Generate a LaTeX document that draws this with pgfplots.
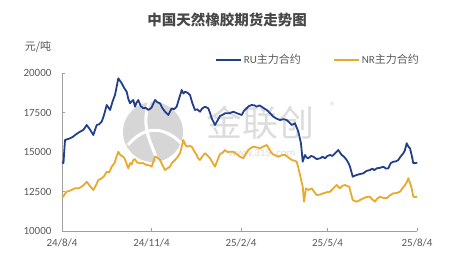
\documentclass[border=0pt]{standalone}
\usepackage{pgfplots}
\pgfplotsset{compat=1.18}
\usepackage{fontspec}
\setmainfont{Carlito}
\newfontfamily\cjk{Noto Sans CJK SC}
\definecolor{rublue}{HTML}{213F8B}
\definecolor{nrgold}{HTML}{E9A92C}
\definecolor{txt}{HTML}{595959}
\definecolor{axgray}{HTML}{A0A0A0}
\definecolor{wm}{HTML}{D6D6D6}
\definecolor{wmt}{HTML}{DCDCDC}
\begin{document}
\begin{tikzpicture}
\useasboundingbox (0,0) rectangle (454pt,265pt);
% watermark
\fill[wm] (153pt,133pt) circle (30pt);
\draw[white, line width=3pt] (128pt,120pt) .. controls (145pt,140pt) and (165pt,140pt) .. (185pt,118pt);
\draw[white, line width=3pt] (150pt,165pt) .. controls (140pt,140pt) and (150pt,125pt) .. (158pt,103pt);
\node[wmt, font=\cjk\fontsize{36}{40}\selectfont, anchor=center] at (260pt,142pt) {金联创};
\node[wmt, font=\fontsize{14}{14}\selectfont] at (333pt,158pt) {®};
\node[wmt, font=\fontsize{11}{11}\selectfont] at (262pt,112pt) {www.315i.com};
% title etc
\node[text=txt!80!black, font=\cjk\bfseries\fontsize{14.5}{15}\selectfont] at (227pt,245pt) {中国天然橡胶期货走势图};
\node[text=txt, font=\cjk\fontsize{11}{12}\selectfont] at (38pt,218pt) {元/吨};
\begin{axis}[
  at={(62pt,34pt)}, anchor=south west,
  scale only axis, width=355pt, height=158pt,
  xmin=0, xmax=365, ymin=10000, ymax=20000,
  xtick={0,92,184,273,365},
  xticklabels={24/8/4,24/11/4,25/2/4,25/5/4,25/8/4},
  ytick={10000,12500,15000,17500,20000},
  scaled ticks=false,
  /pgf/number format/1000 sep={},
  /pgf/number format/assume math mode=true,
  axis lines*=left,
  axis line style={axgray, line width=0.8pt},
  tick style={axgray, line width=0.8pt},
  tick align=inside, major tick length=3pt,
  ticklabel style={text=txt, font=\fontsize{11}{12}\selectfont},
  yticklabel style={xshift=-7pt},
  xticklabel style={yshift=-4pt},
  legend style={at={(0.43,1.082)}, anchor=west, draw=none, fill=none,
    font=\fontsize{11}{12}\selectfont, text=txt, inner sep=0pt,
    /tikz/every even column/.append style={column sep=30pt}},
  legend columns=2,
  legend cell align=left,
  legend image code/.code={\draw[#1, line width=2pt] (0pt,0pt) -- (25pt,0pt);},
  clip=false,
]
\addplot[rublue, line width=1.8pt, line join=round] coordinates {
(0.3,14386)(1.5,14300)(3.1,15760)(5,15800)(8.2,15867)(11,15950)(14,16100)(18.5,16285)(22,16400)(25.4,16709)
(29,16400)(32.2,16076)(35.7,16709)(38,16750)(40.8,16918)(43,17300)(46,17975)(49.4,17658)(52,18200)(54.5,18608)
(57.9,19665)(61.4,19348)(64,19050)(66.5,18817)(68,18400)(69.9,18082)(71.5,18200)(73.3,18291)(75.1,17867)(76.5,18100)(78.4,18291)
(81,17900)(83.6,17766)(86,17800)(88.7,17658)(92,17800)(95.6,18291)(98,18150)(100.8,18082)(103,17800)(105.9,17551)(109.3,17342)
(112.8,17766)(115,17700)(117.9,17867)(120,18300)(123.1,18924)(124.8,18700)(126.5,18817)(129,18750)(131.6,18608)(134,18100)(136.7,17658)
(139,17700)(141.9,17551)(144,17750)(147,17867)(150.4,17766)(152,17500)(153.9,17133)(157.3,16709)(160,17000)(162.4,17279)
(165,17350)(167.6,17449)(172,17450)(176.1,17551)(180,17450)(184.8,17342)(187,17600)(189.9,17766)(192,17900)(195,17975)(198,17950)
(200.2,17867)(203,17950)(205.3,17867)(208,17750)(210.5,17658)(214,17450)(217.3,17234)(221,17100)(224.1,17025)(228,17080)(231,17025)
(234,16850)(236.2,16709)(239.6,16816)(241,16600)(243,16285)(245.7,15551)(247.5,14386)(249.8,14810)(251.5,14650)(253.2,14601)
(256,14750)(258.4,14703)(262,14550)(265.3,14601)(268,14700)(270.4,14601)(273,14750)(275.6,14810)(278,14750)(280.7,14918)
(284.1,15127)(286,14950)(287.6,14810)(290,14700)(292.7,14494)(294.5,14300)(296.1,14070)(298.9,13437)(301,13500)(303,13544)
(306,13600)(309.8,13652)(313,13800)(316.7,13861)(319,13950)(321,13850)(323.6,13968)(327,14000)(330.4,14070)(333,13950)(335.5,13968)
(338,14300)(340.6,14386)(343,14400)(345.8,14494)(348,14700)(350.9,14918)(352.5,15100)(354.4,15551)(356,15350)(357.8,15234)
(359.5,14800)(361.2,14285)(363,14300)(365.3,14323)
};
\addlegendentry{RU{\cjk 主力合约}}
\addplot[nrgold, line width=1.8pt, line join=round] coordinates {
(0.3,12280)(1.3,12171)(3,12350)(4.8,12487)(8,12550)(10,12600)(13.4,12703)(17,12700)(20,12800)(23,12950)(25.4,13120)
(28,12900)(30,12750)(32.2,12595)(35,12900)(37.3,13228)(40,13300)(43,13450)(46,13753)(48.5,13700)(51.1,14070)(54,14300)(56,14700)
(57.9,15019)(60,14800)(63,14703)(65,14500)(67,14150)(68.2,13968)(70,14300)(71.5,14200)(73.3,14494)(75,14550)(77,14350)(80.2,14285)
(83,14300)(87.1,14177)(90,14150)(92.2,14070)(94,14400)(95.6,14703)(98,14650)(100.8,14494)(103,14200)(105.9,13861)(108,13950)
(111,14070)(113,14300)(116.2,14494)(119,14700)(121.3,14918)(123,15300)(124.7,15760)(126.5,15500)(128.2,15335)(131,15400)
(133.4,15335)(136,15050)(138.5,14810)(140,14600)(141.9,14494)(144,14700)(147,14918)(150,14750)(152.2,14601)(155,14300)
(157.3,14070)(160,14500)(162.4,14873)(165,14950)(167.6,15127)(170,15000)(172.7,15019)(176.1,15019)(180,14850)(183,14700)
(186.4,14601)(189,14900)(191.5,15127)(194,15250)(196.7,15335)(200,15300)(203.6,15234)(207,15350)(210.5,15443)(213,15200)
(215.6,14918)(219,14800)(222.4,14703)(226,14800)(229.3,14810)(233,14650)(236.2,14494)(239,14450)(241.3,14386)(243,14000)
(244.7,13544)(246,13200)(247.5,12804)(248.8,11855)(250.9,12703)(253.2,12595)(255,12650)(256.7,12703)(259,12500)(261.9,12279)
(265,12300)(268.7,12386)(272,12450)(275.6,12487)(279,12700)(282.4,12911)(284,12800)(285.8,12703)(288,12850)(291,12911)
(293,12850)(295.4,12804)(297,12400)(298.9,11962)(301,11900)(303,11855)(306,11950)(309.8,12070)(313,12150)(316.7,12171)
(319,12000)(321.8,11855)(324,12050)(327,12171)(330,12100)(333.8,12070)(337,12250)(340.6,12386)(344,12400)(347.5,12487)
(350,12700)(352.7,12911)(354.5,13100)(356.1,13335)(358,13000)(359.5,12703)(361.2,12171)(363,12150)(365.3,12171)
};
\addlegendentry{NR{\cjk 主力合约}}
\end{axis}
\end{tikzpicture}
\end{document}
